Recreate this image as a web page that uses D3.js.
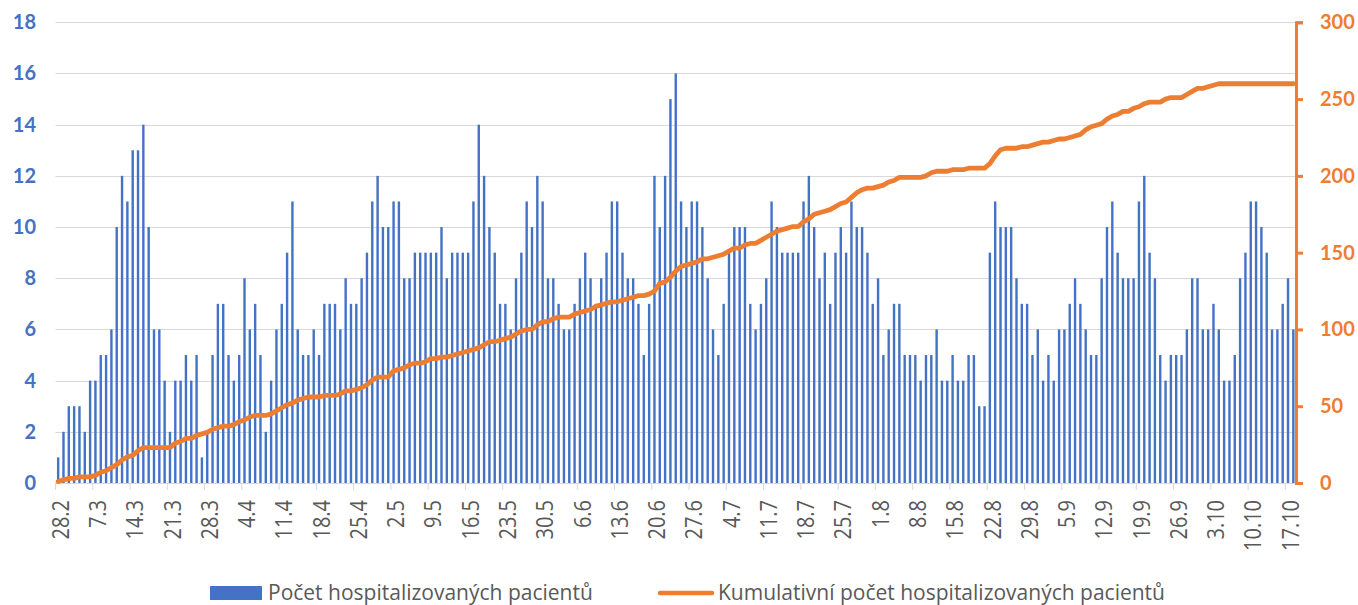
<!DOCTYPE html>
<html>
<head>
<meta charset="utf-8">
<script src="https://cdn.jsdelivr.net/npm/d3@7"></script>
<style>
  body { margin: 0; background: #fff; }
  svg { display: block; font-family: Lato, "Open Sans", sans-serif; }
</style>
</head>
<body>
<svg id="chart" width="1358" height="605"></svg>
<script>
// x-axis labels, one every 7 days starting 28.2
const tickLabels = ['28.2', '7.3', '14.3', '21.3', '28.3', '4.4', '11.4', '18.4', '25.4', '2.5', '9.5',
  '16.5', '23.5', '30.5', '6.6', '13.6', '20.6', '27.6', '4.7', '11.7', '18.7', '25.7', '1.8', '8.8',
  '15.8', '22.8', '29.8', '5.9', '12.9', '19.9', '26.9', '3.10', '10.10', '17.10'];

// daily count (left axis)
const hospitalized = [
  1, 2, 3, 3, 3, 2, 4, 4, 5, 5, 6, 10, 12, 11, 13, 13, 14, 10, 6, 6, 4, 2, 4, 4, 5, 4, 5, 1, 2,
  5, 7, 7, 5, 4, 5, 8, 6, 7, 5, 2, 4, 6, 7, 9, 11, 6, 5, 5, 6, 5, 7, 7, 7, 6, 8, 7, 7, 8,
  9, 11, 12, 10, 10, 11, 11, 8, 8, 9, 9, 9, 9, 9, 10, 8, 9, 9, 9, 9, 11, 14, 12, 10, 9, 7, 7, 6, 8,
  9, 11, 10, 12, 11, 8, 8, 7, 6, 6, 7, 8, 9, 8, 7, 8, 9, 11, 11, 9, 8, 8, 7, 5, 7, 12, 10, 12, 15, 16,
  11, 10, 11, 11, 10, 8, 6, 5, 7, 9, 10, 10, 10, 7, 6, 7, 8, 11, 10, 9, 9, 9, 9, 11, 12, 10, 8, 9,
  7, 9, 10, 9, 11, 10, 10, 9, 7, 8, 5, 6, 7, 7, 5, 5, 5, 4, 5, 5, 6, 4, 4, 5, 4, 4, 5, 5, 3, 3,
  9, 11, 10, 10, 10, 8, 7, 7, 5, 6, 4, 5, 4, 6, 6, 7, 8, 7, 6, 5, 5, 8, 10, 11, 9, 8, 8, 8, 11,
  12, 9, 8, 5, 4, 5, 5, 5, 6, 8, 8, 6, 6, 7, 6, 4, 4, 5, 8, 9, 11, 11, 10, 9, 6, 6, 7, 8, 6
];

// cumulative count (right axis)
const cumulative = [
  1, 2, 3, 3, 4, 4, 4, 5, 7, 8, 10, 12, 15, 17, 18, 21, 23, 23, 23, 23, 23, 23, 26, 27, 29, 29, 31, 32, 33,
  35, 36, 37, 37, 38, 40, 41, 43, 44, 44, 44, 45, 47, 49, 51, 52, 54, 55, 56, 56, 56, 57, 57, 57, 58, 60, 60, 61, 62,
  64, 67, 69, 69, 69, 73, 74, 75, 77, 78, 78, 79, 81, 81, 82, 82, 83, 84, 85, 86, 87, 88, 90, 92, 92, 93, 94, 95, 97,
  99, 100, 100, 103, 105, 105, 107, 108, 108, 108, 110, 111, 112, 113, 115, 116, 117, 118, 118, 119, 120, 121, 122, 122, 123, 125, 130, 131, 134, 138,
  141, 142, 143, 144, 146, 146, 147, 148, 149, 151, 153, 153, 155, 156, 156, 158, 160, 162, 164, 165, 166, 167, 167, 170, 172, 175, 176, 177,
  178, 180, 182, 183, 186, 189, 191, 192, 192, 193, 194, 196, 197, 199, 199, 199, 199, 199, 200, 202, 203, 203, 203, 204, 204, 204, 205, 205, 205, 205,
  208, 213, 217, 218, 218, 218, 219, 219, 220, 221, 222, 222, 223, 224, 224, 225, 226, 227, 230, 232, 233, 234, 237, 239, 240, 242, 242, 244, 245,
  247, 248, 248, 248, 250, 251, 251, 251, 253, 255, 257, 257, 258, 259, 260, 260, 260, 260, 260, 260, 260, 260, 260, 260, 260, 260, 260, 260, 260
];

const leftTicks = d3.range(0, 19, 2);
const rightTicks = d3.range(0, 301, 50);
const legendLabels = ['Počet hospitalizovaných pacientů', 'Kumulativní počet hospitalizovaných pacientů'];

const BLUE = '#4472C4';
const ORANGE = '#ED7D31';
const GREY_TEXT = '#595959';
const GRID = '#D9D9D9';
const LABEL_FONT = '"Open Sans", Lato, sans-serif';

const plot = { left: 55.5, right: 1296, top: 22.3, bottom: 483 };

const svg = d3.select('#chart');

const x = d3.scaleBand()
  .domain(d3.range(hospitalized.length))
  .range([plot.left, plot.right]);

const yLeft = d3.scaleLinear().domain([0, 18]).range([plot.bottom, plot.top]);
const yRight = d3.scaleLinear().domain([0, 300]).range([plot.bottom, plot.top]);

const bw = x.bandwidth();
const cx = (i) => x(i) + bw / 2;

// gridlines
svg.append('g')
  .selectAll('line')
  .data(leftTicks)
  .join('line')
  .attr('x1', plot.left)
  .attr('x2', plot.right)
  .attr('y1', (d) => Math.round(yLeft(d)) + 0.5)
  .attr('y2', (d) => Math.round(yLeft(d)) + 0.5)
  .attr('stroke', GRID)
  .attr('stroke-width', 1);

// left axis labels (no axis line)
svg.append('g')
  .selectAll('text')
  .data(leftTicks)
  .join('text')
  .attr('x', 36)
  .attr('y', (d) => yLeft(d))
  .attr('dy', '0.35em')
  .attr('text-anchor', 'end')
  .attr('fill', BLUE)
  .attr('font-weight', 700)
  .attr('font-size', 20)
  .text((d) => d);

// bars
const barW = 2.4;
svg.append('g')
  .selectAll('rect')
  .data(hospitalized)
  .join('rect')
  .attr('x', (d, i) => cx(i) - barW / 2)
  .attr('width', barW)
  .attr('y', (d) => yLeft(d))
  .attr('height', (d) => yLeft(0) - yLeft(d))
  .attr('fill', BLUE);

// category axis
const xAxis = svg.append('g');
xAxis.append('line')
  .attr('x1', plot.left)
  .attr('x2', plot.right)
  .attr('y1', plot.bottom + 0.5)
  .attr('y2', plot.bottom + 0.5)
  .attr('stroke', GRID);

xAxis.selectAll('line.tick')
  .data(tickLabels)
  .join('line')
  .attr('class', 'tick')
  .attr('x1', (d, k) => x(k * 7))
  .attr('x2', (d, k) => x(k * 7))
  .attr('y1', plot.bottom)
  .attr('y2', plot.bottom + 7)
  .attr('stroke', GRID);

// labels in the source are tall and narrow, hence the stretch across the glyph height
xAxis.selectAll('text')
  .data(tickLabels)
  .join('text')
  .attr('transform', (d, k) => `translate(${cx(k * 7) + 2},500) rotate(-90) scale(1,1.2)`)
  .attr('dy', '0.36em')
  .attr('text-anchor', 'end')
  .attr('fill', GREY_TEXT)
  .attr('font-family', LABEL_FONT)
  .attr('font-size', 20)
  .text((d) => d);

// cumulative line
const line = d3.line()
  .x((d, i) => cx(i))
  .y((d) => yRight(d));

svg.append('path')
  .datum(cumulative)
  .attr('d', line)
  .attr('fill', 'none')
  .attr('stroke', ORANGE)
  .attr('stroke-width', 4.8)
  .attr('stroke-linejoin', 'round')
  .attr('stroke-linecap', 'round');

// right axis
const rightAxis = svg.append('g')
  .attr('transform', `translate(${plot.right},0)`)
  .call(d3.axisRight(yRight).tickValues(rightTicks).tickSize(7).tickSizeOuter(7).tickPadding(17));

rightAxis.select('.domain').attr('stroke', ORANGE).attr('stroke-width', 3);
rightAxis.selectAll('.tick line').attr('stroke', ORANGE).attr('stroke-width', 3);
rightAxis.selectAll('.tick text')
  .attr('fill', ORANGE)
  .attr('font-weight', 700)
  .attr('font-size', 20)
  .attr('font-family', 'Lato, "Open Sans", sans-serif');

// legend
const legend = svg.append('g')
  .attr('font-family', LABEL_FONT)
  .attr('font-size', 21)
  .attr('fill', GREY_TEXT);
legend.append('rect')
  .attr('x', 210).attr('y', 586)
  .attr('width', 52).attr('height', 14)
  .attr('fill', BLUE);
legend.append('text')
  .attr('x', 268).attr('y', 600)
  .text(legendLabels[0]);
legend.append('line')
  .attr('x1', 660).attr('x2', 712)
  .attr('y1', 593).attr('y2', 593)
  .attr('stroke', ORANGE)
  .attr('stroke-width', 4.5)
  .attr('stroke-linecap', 'round');
legend.append('text')
  .attr('x', 718).attr('y', 600)
  .text(legendLabels[1]);
</script>
</body>
</html>
